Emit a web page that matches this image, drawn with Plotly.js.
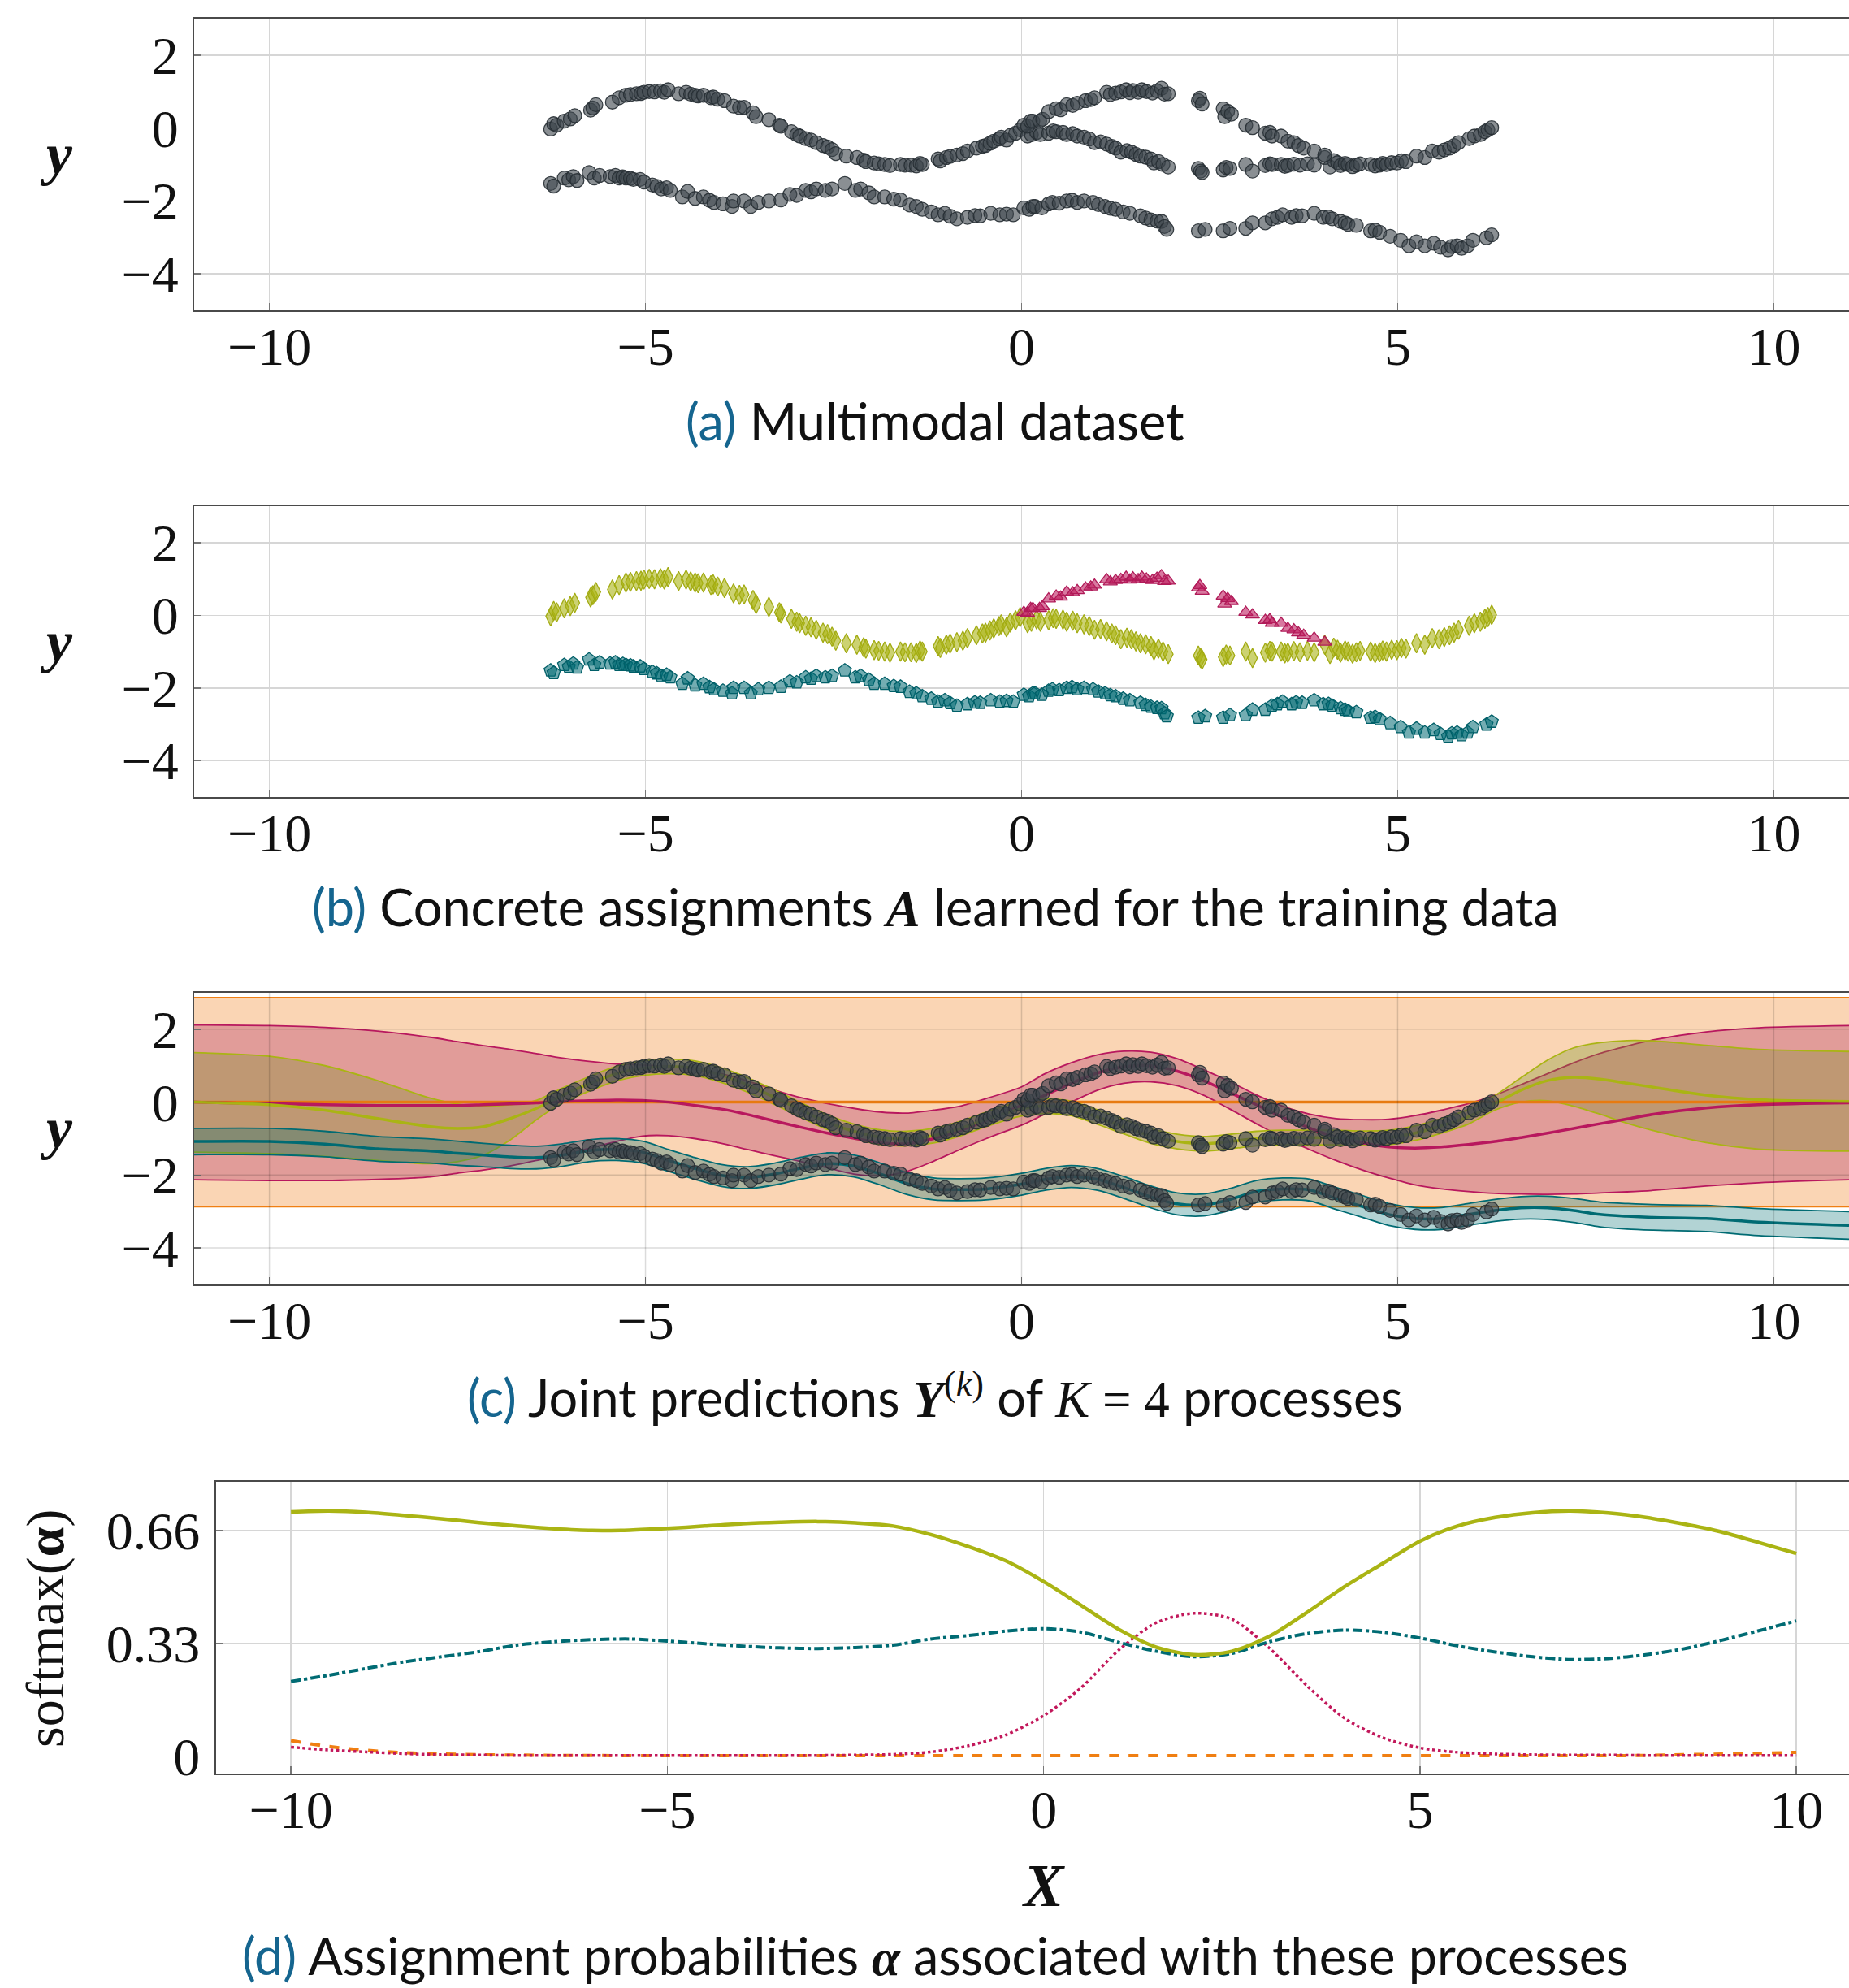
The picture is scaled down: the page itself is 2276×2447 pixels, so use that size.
<!DOCTYPE html>
<html>
<head>
<meta charset="utf-8">
<script src="https://cdn.plot.ly/plotly-3.0.1.min.js"></script>
<style>html,body{margin:0;padding:0;background:#fff;}#chart{width:2276px;height:2447px;}</style>
</head>
<body>
<div id="chart"></div>
<script>
// ---------------- data: training points, grouped by learned assignment ----------------
const grpYx = [-6.26,-6.22,-6.18,-6.08,-6.0,-5.94,-5.73,-5.7,-5.66,-5.44,-5.35,-5.26,-5.2,-5.12,-5.06,-5.02,-4.95,-4.88,-4.8,-4.75,-4.7,-4.56,-4.46,-4.4,-4.34,-4.3,-4.23,-4.13,-4.1,-4.04,-3.95,-3.83,-3.75,-3.69,-3.57,-3.53,-3.36,-3.22,-3.2,-3.06,-2.99,-2.95,-2.87,-2.8,-2.73,-2.64,-2.58,-2.52,-2.47,-2.33,-2.19,-2.1,-2.07,-1.96,-1.9,-1.82,-1.75,-1.61,-1.55,-1.47,-1.4,-1.35,-1.32,-1.11,-1.08,-1.0,-0.95,-0.86,-0.78,-0.72,-0.6,-0.52,-0.48,-0.42,-0.37,-0.3,-0.27,-0.2,-0.15,-0.08,-0.02,
  0.08,0.13,0.2,0.25,0.36,0.42,0.46,0.55,0.6,0.68,0.74,0.83,0.9,0.97,1.05,1.13,1.2,1.25,1.32,1.4,1.46,1.52,1.58,1.65,1.72,1.76,1.82,1.88,1.95,2.35,2.38,2.4,2.68,2.72,2.77,2.98,3.07,3.24,3.3,3.33,3.45,3.5,3.54,3.62,3.7,3.8,3.89,4.03,4.1,4.15,4.2,4.24,4.3,4.34,4.4,4.45,4.5,4.64,4.7,4.76,4.8,4.85,4.92,4.99,5.05,5.11,5.25,5.36,5.46,5.55,5.62,5.69,5.75,5.81,5.95,6.02,6.1,6.16,6.2,6.25];
const grpYy = [-0.03,0.12,0.08,0.19,0.25,0.34,0.49,0.55,0.64,0.71,0.83,0.9,0.92,0.94,0.95,0.98,1.0,0.99,1.02,0.98,1.05,0.94,0.98,0.93,0.9,0.88,0.9,0.83,0.85,0.79,0.75,0.6,0.56,0.57,0.42,0.31,0.23,0.08,0.05,-0.1,-0.18,-0.22,-0.29,-0.33,-0.4,-0.48,-0.52,-0.59,-0.7,-0.77,-0.81,-0.88,-0.92,-0.96,-0.98,-1.0,-1.03,-1.0,-1.02,-1.02,-1.04,-0.97,-1.0,-0.85,-0.9,-0.81,-0.78,-0.74,-0.7,-0.63,-0.55,-0.5,-0.48,-0.42,-0.36,-0.3,-0.25,-0.33,-0.2,-0.14,-0.05,
  -0.22,-0.18,-0.12,-0.18,-0.14,-0.08,-0.1,-0.12,-0.18,-0.15,-0.22,-0.25,-0.3,-0.4,-0.38,-0.44,-0.5,-0.55,-0.66,-0.62,-0.66,-0.72,-0.77,-0.8,-0.85,-0.96,-0.92,-1.0,-1.07,-1.11,-1.18,-1.22,-1.15,-1.08,-1.11,-1.0,-1.18,-1.03,-0.98,-1.0,-1.0,-1.05,-1.03,-0.99,-1.02,-0.98,-1.02,-0.81,-1.07,-0.89,-0.95,-1.03,-0.97,-1.0,-1.06,-1.02,-0.98,-1.0,-1.04,-1.02,-0.97,-1.0,-0.95,-0.96,-0.9,-0.92,-0.77,-0.81,-0.63,-0.66,-0.6,-0.55,-0.48,-0.4,-0.29,-0.22,-0.18,-0.1,-0.05,0.01];
const grpMx = [0.03,0.08,0.12,0.15,0.24,0.28,0.36,0.46,0.52,0.6,0.68,0.74,0.85,0.92,0.97,1.13,1.18,1.25,1.32,1.39,1.44,1.48,1.55,1.6,1.66,1.74,1.8,1.86,1.9,1.95,2.35,2.37,2.4,2.68,2.7,2.74,2.79,2.98,3.07,3.24,3.3,3.33,3.45,3.54,3.62,3.68,3.75,3.89,4.03];
const grpMy = [0.08,0.05,0.19,0.19,0.19,0.24,0.45,0.53,0.5,0.64,0.62,0.68,0.75,0.78,0.83,0.98,0.92,0.96,0.99,1.05,0.97,1.03,0.98,1.05,1.0,0.96,1.02,1.09,0.93,0.94,0.75,0.82,0.66,0.53,0.31,0.46,0.38,0.08,0.01,-0.14,-0.12,-0.22,-0.22,-0.36,-0.4,-0.48,-0.55,-0.63,-0.74];
const grpTx = [-6.26,-6.22,-6.08,-6.02,-5.96,-5.91,-5.75,-5.68,-5.61,-5.47,-5.4,-5.35,-5.3,-5.26,-5.2,-5.16,-5.07,-5.02,-4.91,-4.85,-4.79,-4.72,-4.67,-4.51,-4.44,-4.34,-4.23,-4.15,-4.09,-3.97,-3.85,-3.83,-3.69,-3.6,-3.5,-3.36,-3.2,-3.08,-2.99,-2.87,-2.8,-2.73,-2.61,-2.52,-2.35,-2.21,-2.14,-2.03,-1.96,-1.82,-1.7,-1.61,-1.49,-1.4,-1.32,-1.2,-1.11,-1.02,-0.95,-0.86,-0.72,-0.62,-0.55,-0.41,-0.29,-0.2,-0.11,
  0.03,0.1,0.15,0.18,0.27,0.36,0.41,0.5,0.6,0.67,0.74,0.83,0.95,1.02,1.11,1.18,1.25,1.35,1.44,1.58,1.65,1.72,1.8,1.86,1.9,1.93,2.35,2.44,2.68,2.77,2.98,3.07,3.24,3.33,3.4,3.47,3.59,3.65,3.73,3.89,4.01,4.08,4.13,4.24,4.3,4.34,4.45,4.64,4.7,4.76,4.9,5.04,5.15,5.25,5.36,5.48,5.57,5.67,5.72,5.79,5.85,5.93,6.0,6.18,6.25];
const grpTy = [-1.52,-1.59,-1.37,-1.42,-1.33,-1.44,-1.22,-1.37,-1.3,-1.33,-1.3,-1.37,-1.34,-1.37,-1.38,-1.41,-1.41,-1.48,-1.56,-1.6,-1.67,-1.64,-1.71,-1.89,-1.74,-1.93,-1.89,-1.98,-2.04,-2.08,-2.15,-2.0,-2.0,-2.15,-2.04,-2.0,-1.97,-1.82,-1.85,-1.71,-1.75,-1.67,-1.71,-1.67,-1.52,-1.71,-1.67,-1.78,-1.89,-1.89,-1.95,-1.97,-2.11,-2.15,-2.23,-2.3,-2.38,-2.34,-2.42,-2.49,-2.45,-2.4,-2.41,-2.34,-2.38,-2.36,-2.38,
  -2.19,-2.23,-2.15,-2.15,-2.19,-2.08,-2.04,-2.06,-2.0,-1.98,-2.04,-2.0,-2.04,-2.1,-2.15,-2.2,-2.23,-2.3,-2.34,-2.41,-2.47,-2.52,-2.55,-2.56,-2.7,-2.78,-2.82,-2.78,-2.82,-2.75,-2.75,-2.6,-2.6,-2.49,-2.45,-2.38,-2.45,-2.4,-2.41,-2.34,-2.45,-2.44,-2.49,-2.56,-2.6,-2.64,-2.67,-2.82,-2.8,-2.86,-2.97,-3.08,-3.23,-3.12,-3.23,-3.16,-3.27,-3.34,-3.25,-3.23,-3.3,-3.23,-3.08,-3.01,-2.93];

// ---------------- data: GP predictions (panel c) ----------------
const predX = [-11,-10,-9.26,-8.56,-7.86,-7.5,-7.15,-6.8,-6.45,-6.1,-5.75,-5.39,-5.04,-4.69,-4.34,-3.99,-3.64,-3.28,-2.93,-2.58,-2.23,-1.88,-1.53,-1.17,-0.82,-0.47,0,0.31,0.66,1.01,1.36,1.72,2.07,2.42,2.77,3.12,3.47,3.83,4.18,4.53,4.88,5.23,5.58,5.94,6.29,6.64,6.99,7.34,7.69,8.05,8.4,9.1,9.8,11];
const orgMean = [0,0,0,0,0,0,0,0,0,0,0,0,0,0,0,0,0,0,0,0,0,0,0,0,0,0,0,0,0,0,0,0,0,0,0,0,0,0,0,0,0,0,0,0,0,0,0,0,0,0,0,0,0,0];
const orgUp = [2.87,2.87,2.87,2.87,2.87,2.87,2.87,2.87,2.87,2.87,2.87,2.87,2.87,2.87,2.87,2.87,2.87,2.87,2.87,2.87,2.87,2.87,2.87,2.87,2.87,2.87,2.87,2.87,2.87,2.87,2.87,2.87,2.87,2.87,2.87,2.87,2.87,2.87,2.87,2.87,2.87,2.87,2.87,2.87,2.87,2.87,2.87,2.87,2.87,2.87,2.87,2.87,2.87,2.87];
const orgLo = [-2.87,-2.87,-2.87,-2.87,-2.87,-2.87,-2.87,-2.87,-2.87,-2.87,-2.87,-2.87,-2.87,-2.87,-2.87,-2.87,-2.87,-2.87,-2.87,-2.87,-2.87,-2.87,-2.87,-2.87,-2.87,-2.87,-2.87,-2.87,-2.87,-2.87,-2.87,-2.87,-2.87,-2.87,-2.87,-2.87,-2.87,-2.87,-2.87,-2.87,-2.87,-2.87,-2.87,-2.87,-2.87,-2.87,-2.87,-2.87,-2.87,-2.87,-2.87,-2.87,-2.87,-2.87];
const magMean = [0,-0.04,-0.07,-0.09,-0.09,-0.09,-0.07,-0.05,-0.02,0.02,0.04,0.06,0.05,0.0,-0.09,-0.19,-0.34,-0.52,-0.69,-0.85,-0.99,-1.11,-1.14,-1.0,-0.78,-0.5,-0.09,0.19,0.52,0.8,0.97,1.0,0.85,0.59,0.26,-0.07,-0.41,-0.71,-0.97,-1.11,-1.23,-1.26,-1.23,-1.16,-1.08,-0.97,-0.85,-0.72,-0.59,-0.46,-0.33,-0.16,-0.07,-0.02];
const magUp = [2.12,2.1,2.05,1.95,1.78,1.66,1.55,1.45,1.33,1.21,1.12,1.05,1.02,0.98,0.9,0.78,0.58,0.33,0.12,-0.04,-0.17,-0.27,-0.3,-0.22,-0.11,0.1,0.42,0.78,1.08,1.3,1.4,1.37,1.19,0.89,0.56,0.2,-0.11,-0.33,-0.45,-0.48,-0.47,-0.37,-0.22,-0.04,0.19,0.48,0.78,1.08,1.34,1.54,1.71,1.93,2.04,2.1];
const magLo = [-2.13,-2.15,-2.15,-2.12,-2.05,-1.95,-1.86,-1.75,-1.6,-1.45,-1.27,-1.08,-0.93,-0.92,-1.0,-1.13,-1.3,-1.47,-1.63,-1.8,-1.97,-2.02,-1.9,-1.62,-1.3,-1.0,-0.63,-0.33,0.0,0.33,0.52,0.56,0.45,0.19,-0.19,-0.59,-0.97,-1.3,-1.6,-1.86,-2.08,-2.27,-2.38,-2.45,-2.5,-2.52,-2.53,-2.52,-2.49,-2.46,-2.42,-2.3,-2.21,-2.13];
const yelMean = [0,-0.07,-0.22,-0.45,-0.67,-0.72,-0.67,-0.45,-0.17,0.19,0.5,0.78,0.93,0.98,0.93,0.74,0.47,0.13,-0.22,-0.55,-0.8,-0.96,-1.0,-0.92,-0.73,-0.47,-0.18,-0.11,-0.17,-0.41,-0.67,-0.93,-1.08,-1.14,-1.08,-1.0,-0.97,-0.97,-0.97,-0.99,-0.97,-0.85,-0.65,-0.4,-0.04,0.33,0.59,0.68,0.63,0.52,0.41,0.19,0.07,0.02];
const yelUp = [1.36,1.26,1.0,0.59,0.11,-0.05,-0.1,-0.07,0.05,0.39,0.7,0.98,1.13,1.18,1.13,0.94,0.67,0.33,-0.02,-0.35,-0.6,-0.76,-0.8,-0.72,-0.53,-0.27,0.02,0.09,0.03,-0.21,-0.47,-0.73,-0.88,-0.94,-0.88,-0.8,-0.77,-0.77,-0.77,-0.79,-0.77,-0.65,-0.45,-0.2,0.18,0.67,1.15,1.49,1.63,1.69,1.68,1.56,1.45,1.39];
const yelLo = [-1.37,-1.41,-1.49,-1.6,-1.69,-1.63,-1.45,-1.04,-0.48,-0.02,0.3,0.58,0.73,0.78,0.73,0.54,0.27,-0.07,-0.42,-0.75,-1.0,-1.16,-1.2,-1.12,-0.93,-0.67,-0.38,-0.31,-0.37,-0.61,-0.87,-1.13,-1.28,-1.34,-1.28,-1.2,-1.17,-1.17,-1.17,-1.19,-1.17,-1.05,-0.85,-0.6,-0.22,0.0,0.04,-0.11,-0.33,-0.58,-0.78,-1.11,-1.29,-1.34];
const tealMean = [-1.08,-1.08,-1.15,-1.28,-1.34,-1.4,-1.45,-1.5,-1.52,-1.45,-1.33,-1.3,-1.37,-1.6,-1.82,-2.01,-2.07,-1.97,-1.81,-1.69,-1.75,-1.97,-2.23,-2.38,-2.4,-2.38,-2.25,-2.12,-2.04,-2.12,-2.34,-2.6,-2.79,-2.82,-2.67,-2.45,-2.38,-2.41,-2.64,-2.86,-3.08,-3.19,-3.19,-3.08,-2.97,-2.9,-2.9,-2.97,-3.08,-3.13,-3.16,-3.19,-3.29,-3.38];
const tealHw = [0.36,0.36,0.35,0.34,0.33,0.33,0.32,0.32,0.31,0.31,0.3,0.3,0.3,0.3,0.3,0.3,0.3,0.3,0.3,0.3,0.3,0.3,0.3,0.3,0.3,0.3,0.3,0.3,0.3,0.3,0.3,0.3,0.3,0.3,0.3,0.3,0.3,0.3,0.3,0.3,0.3,0.3,0.3,0.3,0.3,0.31,0.32,0.33,0.34,0.35,0.35,0.36,0.37,0.38];

// ---------------- data: assignment probabilities (panel d) ----------------
const probX = [-10,-9.5,-9,-8.5,-8,-7.5,-7,-6.5,-6,-5.5,-5,-4.5,-4,-3.5,-3,-2.5,-2,-1.5,-1,-0.5,0,0.5,1,1.5,2,2.5,3,3.5,4,4.5,5,5.5,6,6.5,7,7.5,8,8.5,9,9.5,10];
const probYel = [0.713,0.716,0.712,0.703,0.693,0.682,0.672,0.664,0.659,0.66,0.665,0.672,0.679,0.683,0.685,0.681,0.672,0.647,0.612,0.57,0.51,0.44,0.37,0.318,0.296,0.306,0.35,0.42,0.495,0.562,0.628,0.672,0.697,0.711,0.716,0.71,0.697,0.678,0.655,0.624,0.592];
const probTeal = [0.218,0.236,0.256,0.275,0.29,0.305,0.324,0.334,0.34,0.342,0.336,0.328,0.321,0.316,0.314,0.317,0.324,0.342,0.352,0.365,0.372,0.362,0.332,0.306,0.29,0.3,0.334,0.358,0.368,0.362,0.345,0.322,0.304,0.29,0.282,0.285,0.296,0.313,0.338,0.366,0.395];
const probMag = [0.026,0.018,0.012,0.007,0.004,0.003,0.002,0.002,0.002,0.002,0.002,0.002,0.002,0.002,0.002,0.003,0.005,0.012,0.03,0.062,0.118,0.2,0.31,0.39,0.417,0.4,0.315,0.205,0.11,0.054,0.024,0.011,0.006,0.004,0.003,0.003,0.002,0.002,0.002,0.002,0.002];
const probOrg = [0.045,0.028,0.017,0.01,0.006,0.004,0.003,0.002,0.002,0.001,0.001,0.001,0.001,0.001,0.001,0.001,0.001,0.001,0.001,0.001,0.001,0.001,0.001,0.001,0.001,0.001,0.001,0.001,0.001,0.001,0.001,0.001,0.001,0.001,0.001,0.001,0.002,0.004,0.006,0.008,0.011];

// ---------------- tick labels ----------------
const xTicks = [-10,-5,0,5,10];
const yTicks = [-4,-2,0,2];
const pTicks = [0,0.33,0.66];
const pTickText = ['0','0.33','0.66'];

// ---------------- styling ----------------
const C_YEL = '#aab414', C_MAG = '#b8185e', C_TEAL = '#006b73', C_ORG = '#f07f12';
const serif = 'Liberation Serif';
const tickFont = {family: serif, size: 66, color: '#111'};
const allX = grpYx.concat(grpMx, grpTx);
const allY = grpYy.concat(grpMy, grpTy);

const traces = [];
function ptsTrace(xa, ya, x, y) {
  return {type:'scatter', mode:'markers', x:x, y:y, xaxis:xa, yaxis:ya, showlegend:false, hoverinfo:'skip',
    marker:{symbol:'circle', size:17, color:'rgba(60,68,75,0.6)', line:{color:'rgba(38,45,51,0.9)', width:1.3}}};
}
// panel a
traces.push(ptsTrace('x','y', allX, allY));
// panel b
traces.push({type:'scatter', mode:'markers', x:grpYx, y:grpYy, xaxis:'x2', yaxis:'y2', showlegend:false, hoverinfo:'skip',
  marker:{symbol:'diamond-tall', size:17, color:'rgba(170,180,20,0.6)', line:{color:'#a2ab12', width:1.3}}});
traces.push({type:'scatter', mode:'markers', x:grpMx, y:grpMy, xaxis:'x2', yaxis:'y2', showlegend:false, hoverinfo:'skip',
  marker:{symbol:'triangle-up', size:15, color:'rgba(190,30,95,0.6)', line:{color:'#b01a58', width:1.3}}});
traces.push({type:'scatter', mode:'markers', x:grpTx, y:grpTy, xaxis:'x2', yaxis:'y2', showlegend:false, hoverinfo:'skip',
  marker:{symbol:'pentagon', size:17, color:'rgba(0,105,115,0.55)', line:{color:'#005f68', width:1.3}}});
// panel c bands
function band(up, lo, mean, lineCol, fillCol, hw) {
  const u = hw ? mean.map((m,i)=>m+hw[i]) : up;
  const l = hw ? mean.map((m,i)=>m-hw[i]) : lo;
  traces.push({type:'scatter', mode:'lines', x:predX, y:u, xaxis:'x3', yaxis:'y3', showlegend:false, hoverinfo:'skip',
    line:{color:lineCol, width:1.8, shape:'spline', smoothing:0.8}});
  traces.push({type:'scatter', mode:'lines', x:predX, y:l, xaxis:'x3', yaxis:'y3', showlegend:false, hoverinfo:'skip',
    fill:'tonexty', fillcolor:fillCol, line:{color:lineCol, width:1.8, shape:'spline', smoothing:0.8}});
}
function meanLine(mean, col) {
  traces.push({type:'scatter', mode:'lines', x:predX, y:mean, xaxis:'x3', yaxis:'y3', showlegend:false, hoverinfo:'skip',
    line:{color:col, width:3.5, shape:'spline', smoothing:0.8}});
}
band(orgUp, orgLo, null, C_ORG, 'rgba(240,128,26,0.33)');
band(magUp, magLo, null, C_MAG, 'rgba(168,26,94,0.30)');
band(yelUp, yelLo, null, C_YEL, 'rgba(120,145,40,0.33)');
band(null, null, tealMean, C_TEAL, 'rgba(0,108,112,0.30)', tealHw);
meanLine(orgMean, C_ORG);
meanLine(magMean, C_MAG);
meanLine(yelMean, C_YEL);
meanLine(tealMean, C_TEAL);
traces.push(ptsTrace('x3','y3', allX, allY));
// panel d
function probLine(y, col, dash, w) {
  traces.push({type:'scatter', mode:'lines', x:probX, y:y, xaxis:'x4', yaxis:'y4', showlegend:false, hoverinfo:'skip',
    line:{color:col, width:w, dash:dash, shape:'spline', smoothing:0.8}});
}
probLine(probOrg, C_ORG, 'dash', 4);
probLine(probMag, '#c2185b', 'dot', 3.5);
probLine(probTeal, C_TEAL, 'dashdot', 4);
probLine(probYel, C_YEL, 'solid', 4.5);

// ---------------- layout ----------------
const H = 2447, W = 2276;
const py = v => 1 - v / H, px = v => v / W;
function xax(anchor, left, range) {
  return {domain:[px(left), 1], range:range, anchor:anchor, tickvals:xTicks, ticktext:xTicks.map(v=>v<0?'\u2212'+(-v):String(v)),
    showgrid:true, gridcolor:'#d6d6d6', gridwidth:1.5, zeroline:false, showline:true, linecolor:'#4a4a4a', linewidth:2,
    mirror:true, ticks:'inside', ticklen:9, tickcolor:'#777', tickwidth:1.5, tickfont:tickFont, ticklabelstandoff:-14, fixedrange:true};
}
function yax(anchor, top, bot, range, tv, tt) {
  return {domain:[py(bot), py(top)], range:range, anchor:anchor, tickvals:tv, ticktext:tt,
    showgrid:true, gridcolor:'#d6d6d6', gridwidth:1.5, zeroline:false, showline:true, linecolor:'#4a4a4a', linewidth:2,
    mirror:false, ticks:'inside', ticklen:9, tickcolor:'#777', tickwidth:1.5, tickfont:tickFont, ticklabelstandoff:4, fixedrange:true};
}
const yTT = yTicks.map(v=>v<0?'\u2212'+(-v):String(v));
const layout = {
  width:W, height:H, margin:{l:0,r:0,t:0,b:0}, paper_bgcolor:'#fff', plot_bgcolor:'#fff', showlegend:false,
  xaxis: xax('y', 239, [-11, 11]),
  yaxis: yax('x', 23, 382, [-5, 3], yTicks, yTT),
  xaxis2: xax('y2', 239, [-11, 11]),
  yaxis2: yax('x2', 623, 981, [-5, 3], yTicks, yTT),
  xaxis3: Object.assign(xax('y3', 239, [-11, 11]), {showgrid:false}),
  yaxis3: Object.assign(yax('x3', 1222, 1581, [-5, 3], yTicks, yTT), {showgrid:false}),
  xaxis4: xax('y4', 265.5, [-11, 10.70]),
  yaxis4: yax('x4', 1824, 2183, [-0.051, 0.801], pTicks, pTickText),
  shapes: [],
  annotations: []
};
// panel c gridlines drawn above the bands (as in the reference)
xTicks.forEach(v => layout.shapes.push({type:'line', xref:'x3', yref:'y3 domain', x0:v, x1:v, y0:0, y1:1, layer:'above', line:{color:'rgba(0,0,0,0.14)', width:1.5}}));
yTicks.forEach(v => layout.shapes.push({type:'line', xref:'x3 domain', yref:'y3', x0:0, x1:1, y0:v, y1:v, layer:'above', line:{color:'rgba(0,0,0,0.14)', width:1.5}}));

const capFont = {family:'Lato', size:63, color:'#111'};
const lab = t => '<span style="color:#15658f">' + t + '</span>';
const m = t => '<span style="font-family:Liberation Serif">' + t + '</span>';
function ann(x, y, text, font, extra) {
  layout.annotations.push(Object.assign({xref:'paper', yref:'paper', x:x, y:y, text:text, showarrow:false, xanchor:'center', yanchor:'middle', font:font}, extra||{}));
}
ann(px(1151), py(518), lab('(a)') + ' Multimodal dataset', capFont);
ann(px(1151), py(1116), lab('(b)') + ' Concrete assignments ' + m('<b><i>A</i></b>') + ' learned for the training data', capFont);
ann(px(1151), py(1718), lab('(c)') + ' Joint predictions ' + m('<b><i>Y</i></b><sup>(<i>k</i>)</sup>') + ' of ' + m('<i>K</i> = 4') + ' processes', capFont);
ann(px(1151), py(2407), lab('(d)') + ' Assignment probabilities ' + m('<b><i>\u03B1</i></b>') + ' associated with these processes', capFont);
const yLabFont = {family:serif, size:72, color:'#111'};
ann(px(69), py(190), '<b><i>y</i></b>', yLabFont);
ann(px(69), py(790), '<b><i>y</i></b>', yLabFont);
ann(px(69), py(1389), '<b><i>y</i></b>', yLabFont);
ann(px(56), py(2005), 'softmax(<b>\u03B1</b>)', {family:serif, size:66, color:'#111'}, {textangle:-90});
ann(px(1284), py(2321), '<b><i>X</i></b>', {family:serif, size:74, color:'#111'});

Plotly.newPlot('chart', traces, layout, {staticPlot:true, displayModeBar:false});
</script>
</body>
</html>
